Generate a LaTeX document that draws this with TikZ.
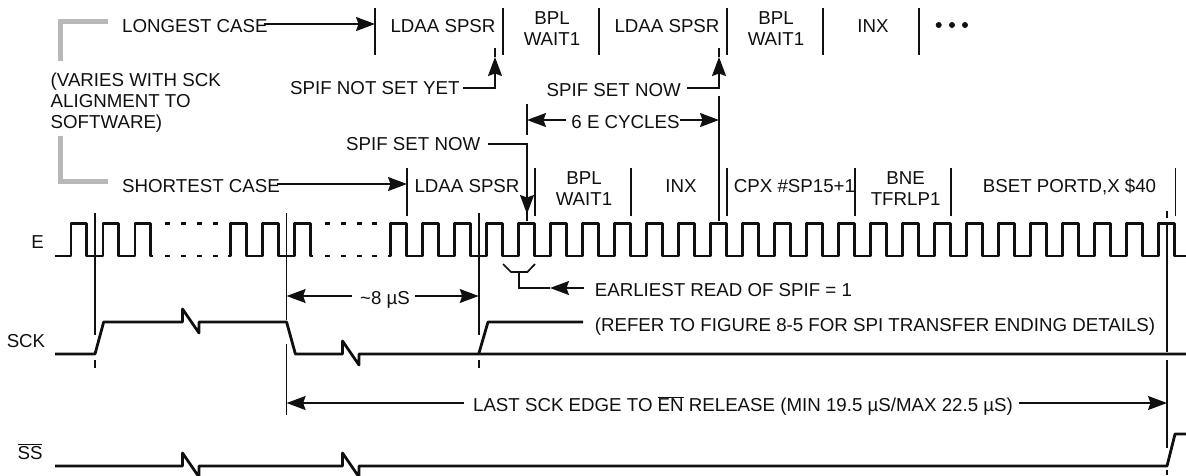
\documentclass[tikz,border=0pt]{standalone}
\usepackage{fontspec}
\setmainfont{Liberation Sans}
\usetikzlibrary{arrows.meta,calc}
\definecolor{ink}{HTML}{101010}
\definecolor{brk}{HTML}{B8B8B8}
\tikzset{
  x=1pt,y=-1pt,
  lbl/.style={inner sep=0pt,anchor=base,text=ink,font=\fontsize{18.7}{22}\selectfont},
  lbll/.style={lbl,anchor=base west},
  barline/.style={draw=ink,line width=1.8pt},
  thinl/.style={draw=ink,line width=1.7pt},
  wave/.style={draw=ink,line width=2.4pt,line join=round},
  sig/.style={draw=ink,line width=2.8pt,line join=round},
  arr/.style={draw=ink,line width=1.6pt,-{Stealth[length=19pt,width=14pt,inset=2.5pt]}},
  brkt/.style={draw=brk,line width=5pt,line join=miter},
  dashwave/.style={draw=ink,line width=2.4pt}
}
\begin{document}
\begin{tikzpicture}
\useasboundingbox (0,0) rectangle (1186,475);
% gray brackets
\draw[brkt] (108,21) -- (60.5,21) -- (60.5,61);
\draw[brkt] (60.5,136) -- (60.5,181) -- (108,181);
% top instruction row
\foreach \n/\x in {ta/375,tb/503,tc/598.7,td/727,te/822.7,tf/919}{
  \coordinate (\n) at (\x,8); \draw[barline] (\n) -- ++(0,47);}
% lower instruction row
\foreach \n/\x in {ba/407,bb/535,bc/630.7,bd/727,be/855,bf/951,bg/1175.5}{
  \coordinate (\n) at (\x,168); \draw[barline] (\n) -- ++(0,48);}
% labels
\node[lbll] (longest) at (122,32) {LONGEST CASE};
\node[lbll] (shortest) at (122,192) {SHORTEST CASE};
\node[lbl] (i1) at (443,32) {LDAA SPSR};
\node[lbl] (i2a) at (552,24) {BPL};
\node[lbl] (i2b) at (552,45) {WAIT1};
\node[lbl] (i3) at (667,32) {LDAA SPSR};
\node[lbl] (i4a) at (776,24) {BPL};
\node[lbl] (i4b) at (776,45) {WAIT1};
\node[lbl] (i5) at (873,32) {INX};
\foreach \x in {938.7,952,965}{\fill[ink] (\x,25) circle (3pt);}
\node[lbll] (var1) at (50.5,86) {(VARIES WITH SCK};
\node[lbll] (var2) at (50.5,107) {ALIGNMENT TO};
\node[lbll] (var3) at (50.5,128) {SOFTWARE)};
\node[lbll] (notset) at (290,94) {SPIF NOT SET YET};
\node[lbll] (setup) at (546.5,96) {SPIF SET NOW};
\node[lbl] (six) at (625.5,128) {6 E CYCLES};
\node[lbll] (setlow) at (346,150) {SPIF SET NOW};
\node[lbl] (j1) at (467,192) {LDAA SPSR};
\node[lbl] (j2a) at (584,184) {BPL};
\node[lbl] (j2b) at (584,205) {WAIT1};
\node[lbl] (j3) at (681,192) {INX};
\node[lbl] (j4) at (794.5,192) {CPX \#SP15+1};
\node[lbl] (j5a) at (905.6,184) {BNE};
\node[lbl] (j5b) at (905.6,205) {TFRLP1};
\node[lbl] (j6) at (1069.5,192) {BSET PORTD,X \$40};
\node[lbl] (lE) at (37.5,248) {E};
\node[lbl] (lSCK) at (26,347) {SCK};
\node[lbl] (lSS) at (30,459) {$\overline{\mbox{SS}}$};
\node[lbl] (micro) at (385,304) {\textasciitilde 8 µS};
\node[lbll] (early) at (594.6,296.6) {EARLIEST READ OF SPIF = 1};
\node[lbll] (refer) at (594.6,331.7) {(REFER TO FIGURE 8-5 FOR SPI TRANSFER ENDING DETAILS)};
\node[lbl] (last) at (743,411) {LAST SCK EDGE TO $\overline{\mbox{EN}}$ RELEASE (MIN 19.5 µS/MAX 22.5 µS)};
% arrows from the case labels
\coordinate (ta2) at (375,24); \coordinate (ba2) at (407,184);
\draw[arr] (264,24) -- (ta2);
\draw[arr] (277,184) -- (ba2);
% SPIF not set yet
\coordinate (n1) at (463,88); \coordinate (n2) at (495,88); \coordinate (n3) at (495,57);
\draw[arr] (n1) -- (n2) -- (n3);
\draw[thinl] (495,48) -- (495,57);
% SPIF set now, top
\coordinate (u1) at (687,88); \coordinate (u2) at (719,88); \coordinate (u3) at (719,57);
\draw[arr] (u1) -- (u2) -- (u3);
\draw[thinl] (719,48) -- (719,57);
\draw[thinl] (719,96) -- (719,221);
% 6 E cycles
\coordinate (c1) at (527,120); \coordinate (c2) at (719,120);
\draw[thinl] (527,104) -- (527,135);
\draw[arr] (566,120) -- (c1);
\draw[arr] (680,120) -- (c2);
% SPIF set now, lower
\coordinate (s1) at (488,144); \coordinate (s2) at (527,144); \coordinate (s3) at (527,214);
\draw[arr] (s1) -- (s2) -- (s3);
\draw[thinl] (527,210) -- (527,221);
% E waveform
\draw[wave] (55,255.7)
  \foreach \r in {70.7,102.7,134.7}{ -- (\r,255.7) -- (\r,223.3) -- ({\r+15.8},223.3) -- ({\r+15.8},255.7) }
  -- (153,255.7);
\foreach \x in {165,181,197,213}{
  \draw[dashwave] (\x,223.3) -- ++(5,0);
  \draw[dashwave] (\x,255.7) -- ++(5,0);}
\draw[wave] (228,255.7)
  \foreach \r in {230.6,262.6,294.6}{ -- (\r,255.7) -- (\r,223.3) -- ({\r+15.8},223.3) -- ({\r+15.8},255.7) }
  -- (313,255.7);
\foreach \x in {325,341,357,372}{
  \draw[dashwave] (\x,223.3) -- ++(5,0);
  \draw[dashwave] (\x,255.7) -- ++(5,0);}
\draw[wave] (388,255.7)
  \foreach \r in {390.6,422.6,454.6,486.6,518.6,550.6,582.6,614.6,646.6,678.6,710.6,742.6,774.6,806.6,838.6,870.6,902.6,934.6,966.6,998.6,1030.6,1062.6,1094.6,1126.6,1158.6}{ -- (\r,255.7) -- (\r,223.3) -- ({\r+15.8},223.3) -- ({\r+15.8},255.7) }
  -- (1186,255.7);
% time markers
\draw[thinl] (95,213) -- (95,335);
\draw[thinl] (95,360) -- (95,368);
\draw[thinl] (286.6,213) -- (286.6,320);
\draw[thinl] (286.6,344) -- (286.6,415);
\draw[thinl] (478.7,213) -- (478.7,335);
\draw[thinl] (478.7,360) -- (478.7,368);
\draw[thinl] (1167,211) -- (1167,218);
\draw[thinl] (1167,225) -- (1167,352);
\draw[thinl] (1167,360) -- (1167,448);
\draw[thinl] (1167,470) -- (1167,475);
% earliest read bracket
\draw[thinl] (503,264) -- (511,272) -- (527.4,272) -- (535,264);
\coordinate (e1) at (519,272); \coordinate (e2) at (519,288); \coordinate (e3) at (550,288); \coordinate (e4) at (583.6,288);
\draw[thinl] (e1) -- (e2) -- (e3);
\draw[arr] (e4) -- (e3);
% SCK
\draw[sig] (55,354) -- (95,354) -- (103.7,322) -- (182.5,322) -- (182.5,309) -- (199,333) -- (199,322)
  -- (286.6,322) -- (295.4,354) -- (342.5,354) -- (342.5,341) -- (359,365) -- (359,354) -- (1186,354);
\draw[sig] (478.7,354) -- (488,322) -- (583,322);
% SS
\draw[sig] (55,466) -- (182.5,466) -- (182.5,453) -- (199,477) -- (199,466) -- (342.5,466) -- (342.5,453)
  -- (359,477) -- (359,466) -- (1167,466) -- (1175,434) -- (1186,434);
% dimension arrows
\coordinate (m1) at (286.6,296); \coordinate (m2) at (478.7,296);
\draw[arr] (352,296) -- (m1);
\draw[arr] (414.5,296) -- (m2);
\coordinate (l1) at (286.6,403); \coordinate (l2) at (1167,403);
\draw[arr] (464,403) -- (l1);
\draw[arr] (1018.5,403) -- (l2);
\end{tikzpicture}
\end{document}
